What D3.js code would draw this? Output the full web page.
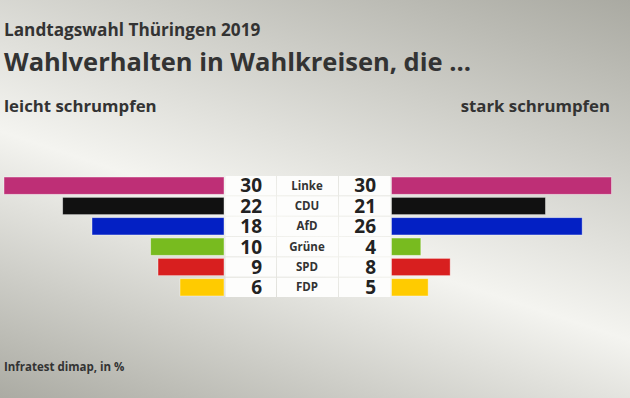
<!DOCTYPE html>
<html lang="de">
<head>
<meta charset="utf-8">
<title>Landtagswahl Thüringen 2019</title>
<script src="https://cdn.jsdelivr.net/npm/d3@7"></script>
<style>
  html, body { margin: 0; padding: 0; }
  body { width: 630px; height: 398px; overflow: hidden; }
  svg text { font-family: "Open Sans", "Lato", sans-serif; fill: #333; }
</style>
</head>
<body>
<div id="chart"></div>
<script>
// data
var parties = ["Linke", "CDU", "AfD", "Grüne", "SPD", "FDP"];
var leicht  = [30, 22, 18, 10, 9, 6];   // leicht schrumpfen
var stark   = [30, 21, 26, 4, 8, 5];    // stark schrumpfen
var colors  = ["#be2f76", "#111111", "#0320c4", "#78bb1f", "#d81f1f", "#ffcb00"];

var w = 630, h = 398;

var svg = d3.select("#chart").append("svg")
    .attr("width", w)
    .attr("height", h);

// background
var defs = svg.append("defs");
var grad = defs.append("linearGradient")
    .attr("id", "bg")
    .attr("gradientUnits", "userSpaceOnUse")
    .attr("x1", 419).attr("y1", -78)
    .attr("x2", 233).attr("y2", 482);
grad.append("stop").attr("offset", 0).attr("stop-color", "#a8a8a0");
grad.append("stop").attr("offset", 0.56).attr("stop-color", "#f4f4f0");
grad.append("stop").attr("offset", 1).attr("stop-color", "#a9a9a1");

svg.append("rect").attr("width", w).attr("height", h).attr("fill", "url(#bg)");

// titles
svg.append("text").attr("x", 4).attr("y", 36)
    .style("font-size", "17.2px").style("font-weight", 700)
    .text("Landtagswahl Thüringen 2019");
svg.append("text").attr("x", 4).attr("y", 71)
    .style("font-size", "25.5px").style("font-weight", 700)
    .text("Wahlverhalten in Wahlkreisen, die ...");
svg.append("text").attr("x", 4).attr("y", 112)
    .style("font-size", "16.8px").style("font-weight", 700)
    .text("leicht schrumpfen");
svg.append("text").attr("x", 610).attr("y", 112)
    .attr("text-anchor", "end")
    .style("font-size", "16.8px").style("font-weight", 700)
    .text("stark schrumpfen");
svg.append("text").attr("x", 4).attr("y", 371)
    .style("font-size", "11.5px").style("font-weight", 700)
    .text("Infratest dimap, in %");

// scales
var y = d3.scaleBand()
    .domain(parties)
    .range([176, 297])
    .paddingInner(0.15)
    .paddingOuter(0.05);

var len = d3.scaleLinear().domain([0, 30]).range([0, 220]);

var leftEnd = 224, rightStart = 391.5;

var rows = svg.append("g").selectAll("g")
    .data(parties)
    .enter().append("g");

// white boxes in the middle
var boxes = [[225.5, 276], [277, 338], [339, 390.5]];
boxes.forEach(function(b) {
  rows.append("rect")
    .attr("x", b[0])
    .attr("width", b[1] - b[0])
    .attr("y", function(d) { return y(d) - 1; })
    .attr("height", y.bandwidth() + 2)
    .attr("fill", "#fdfdfc");
});

// left bars
rows.append("rect")
    .attr("x", function(d, i) { return leftEnd - len(leicht[i]); })
    .attr("y", function(d) { return y(d); })
    .attr("width", function(d, i) { return len(leicht[i]); })
    .attr("height", y.bandwidth())
    .attr("fill", function(d, i) { return colors[i]; })
    .attr("stroke", "rgba(255,255,255,0.5)")
    .attr("stroke-width", 0.8);

// right bars
rows.append("rect")
    .attr("x", rightStart)
    .attr("y", function(d) { return y(d); })
    .attr("width", function(d, i) { return len(stark[i]); })
    .attr("height", y.bandwidth())
    .attr("fill", function(d, i) { return colors[i]; })
    .attr("stroke", "rgba(255,255,255,0.5)")
    .attr("stroke-width", 0.8);

// values
rows.append("text")
    .attr("x", 262)
    .attr("y", function(d) { return y(d) + y.bandwidth() / 2; })
    .attr("dy", "0.36em")
    .attr("text-anchor", "end")
    .style("font-size", "19px").style("font-weight", 700)
    .style("fill", "#222")
    .text(function(d, i) { return leicht[i]; });

rows.append("text")
    .attr("x", 376)
    .attr("y", function(d) { return y(d) + y.bandwidth() / 2; })
    .attr("dy", "0.36em")
    .attr("text-anchor", "end")
    .style("font-size", "19px").style("font-weight", 700)
    .style("fill", "#222")
    .text(function(d, i) { return stark[i]; });

// party labels
rows.append("text")
    .attr("x", 307)
    .attr("y", function(d) { return y(d) + y.bandwidth() / 2; })
    .attr("dy", "0.36em")
    .attr("text-anchor", "middle")
    .style("font-size", "11.5px").style("font-weight", 700)
    .text(function(d) { return d; });
</script>
</body>
</html>
